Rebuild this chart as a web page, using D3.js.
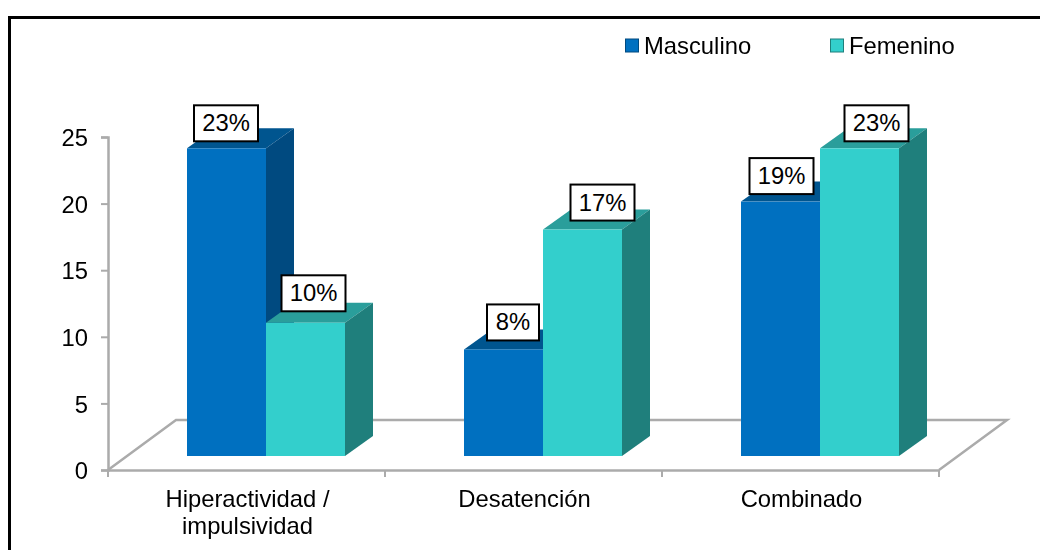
<!DOCTYPE html>
<html><head><meta charset="utf-8">
<script src="https://cdn.jsdelivr.net/npm/d3@7"></script>
<style>
html,body{margin:0;padding:0;background:#fff}
svg{display:block;filter:blur(0.4px)}
text{font-family:"Liberation Sans",Arial,sans-serif;fill:#000}
</style></head><body><svg id="c" width="1040" height="550"></svg>
<script>
const categories = ["Hiperactividad / impulsividad","Desatención","Combinado"];
const categoryLines = [["Hiperactividad /","impulsividad"],["Desatención"],["Combinado"]];
const seriesNames = ["Masculino","Femenino"];
const masculino = [23.1,8,19.1];
const femenino = [10,17,23.1];
const masculinoLabels = ["23%","8%","19%"];
const femeninoLabels = ["10%","17%","23%"];
const yTicks = [0,5,10,15,20,25];

const faces = {Masculino:["#0070C0","#004A80","#00558F"],Femenino:["#33CFCC","#1F7F7C","#2A9E9B"]};
const labelOffsets = {Masculino:[[-0.5,-25],[9.5,-27],[1,-25.5]],Femenino:[[8,-29.5],[20,-27],[17,-25]]};
const categoryLabelOffset = 1;

const svg = d3.select("#c");
const x = d3.scaleBand().domain(categories).range([108,939]);
const y = d3.scaleLinear().domain([0,25]).range([470,137]);
const inner = d3.scaleBand().domain(seriesNames).range([0,158]);
const gridGray = "#ABABAB";
const fontSize = 23.8;
const floorDx = 68, floorDy = -50, barDx = 28, barDy = -20, baseDrop = 14, barShift = 79;

svg.append("path").attr("d","M9.5,550V17.5H1040").attr("fill","none").attr("stroke","#000").attr("stroke-width",3);

const x0=x.range()[0], x1=x.range()[1], y0=y(0);
svg.append("path")
  .attr("d",`M${x0},${y0}L${x0+floorDx},${y0+floorDy}H${x1+floorDx}L${x1},${y0}`)
  .attr("fill","none").attr("stroke",gridGray).attr("stroke-width",2.5);

const gy = svg.append("g").attr("transform",`translate(${x0},0)`)
  .call(d3.axisLeft(y).tickValues(yTicks).tickSize(7).tickPadding(13));
const gx = svg.append("g").attr("transform",`translate(0,${y0})`)
  .call(d3.axisBottom(x).tickValues([]).tickSize(0));
[x0].concat(categories.map(c=>x(c)+x.bandwidth())).forEach(tx=>{
  gx.append("line").attr("x1",tx).attr("x2",tx).attr("y1",0).attr("y2",7);
});
svg.selectAll("g .domain").attr("stroke",gridGray).attr("stroke-width",2.5);
svg.selectAll("g line").attr("stroke",gridGray).attr("stroke-width",2);
gy.selectAll("text").attr("font-size",fontSize).attr("transform","translate(0,1)")
  .style("font-family",'"Liberation Sans",Arial,sans-serif').style("fill","#000");
categoryLines.forEach((lines,i)=>{
  const t=gx.append("text").attr("text-anchor","middle").attr("font-size",fontSize).attr("y",37)
    .style("fill","#000");
  lines.forEach((l,j)=>t.append("tspan").attr("x",x(categories[i])+x.bandwidth()/2+categoryLabelOffset).attr("dy",j?27:0).text(l));
});

const bw=inner.bandwidth();
const barBase=y0-baseDrop;
const order=[];
categories.forEach((c,i)=>{
  order.push({c,s:"Masculino",v:masculino[i],l:masculinoLabels[i],i});
  order.push({c,s:"Femenino",v:femenino[i],l:femeninoLabels[i],i});
});
const barLeft=d=>x(d.c)+barShift+inner(d.s);
const barTop=d=>barBase-(y0-y(d.v));
const bars=svg.append("g").selectAll("g").data(order).join("g");
bars.append("path").attr("fill",d=>faces[d.s][2])
  .attr("d",d=>`M${barLeft(d)},${barTop(d)}l${barDx},${barDy}h${bw}l${-barDx},${-barDy}z`);
bars.append("path").attr("fill",d=>faces[d.s][1])
  .attr("d",d=>`M${barLeft(d)+bw},${barTop(d)}l${barDx},${barDy}V${barBase+barDy}l${-barDx},${-barDy}z`);
bars.append("rect").attr("fill",d=>faces[d.s][0])
  .attr("x",barLeft).attr("y",barTop).attr("width",bw).attr("height",d=>barBase-barTop(d));

const lab=svg.append("g").selectAll("g").data(order).join("g")
  .attr("transform",d=>{
    const o=labelOffsets[d.s][d.i];
    return `translate(${barLeft(d)+bw/2+o[0]},${barTop(d)+o[1]})`;
  });
lab.append("rect").attr("x",d=>d.l.length>2?-32:-26).attr("width",d=>d.l.length>2?64:52)
  .attr("y",-18).attr("height",36).attr("fill","#fff").attr("stroke","#000").attr("stroke-width",2);
lab.append("text").attr("text-anchor","middle").attr("y",8).attr("font-size",fontSize).text(d=>d.l);

const legendX=[625,830];
const leg=svg.append("g").selectAll("g").data(seriesNames).join("g")
  .attr("transform",(d,i)=>`translate(${legendX[i]},39)`);
leg.append("rect").attr("x",0.5).attr("width",13).attr("height",13).attr("fill",d=>faces[d][0]).attr("stroke",d=>faces[d][1]).attr("stroke-width",1);
leg.append("text").attr("x",19).attr("y",15).attr("font-size",fontSize).text(d=>d);
</script></body></html>
